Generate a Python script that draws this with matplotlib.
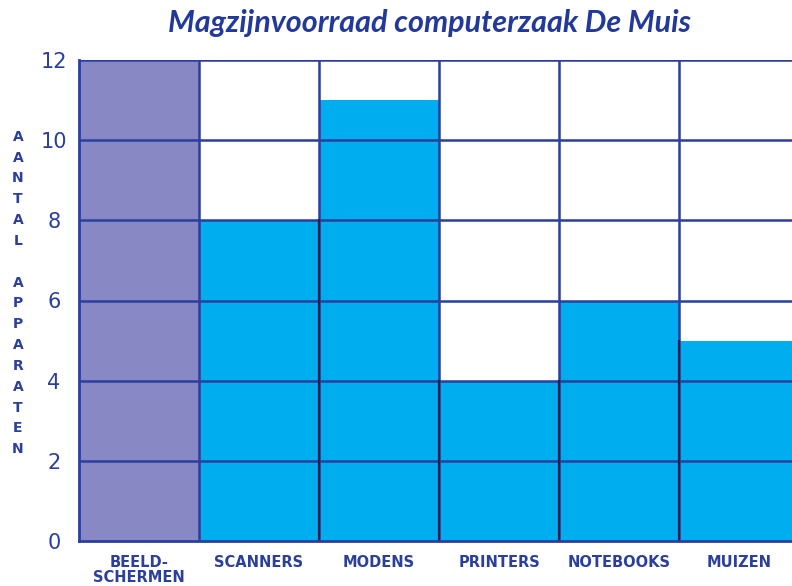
import matplotlib.pyplot as plt

# data
categories = ["BEELD-\nSCHERMEN", "SCANNERS", "MODENS", "PRINTERS", "NOTEBOOKS", "MUIZEN"]
aantal = [12, 8, 11, 4, 6, 5]
bar_colors = ["#8888c4", "#00aeef", "#00aeef", "#00aeef", "#00aeef", "#00aeef"]
y_ticks = [0, 2, 4, 6, 8, 10, 12]

ink = "#2b3f9c"

fig = plt.figure(figsize=(7.92, 5.86), dpi=100)
ax = fig.add_axes([79 / 792, 45 / 586, 713 / 792, 481 / 586])

x = [i + 0.5 for i in range(len(categories))]
ax.bar(x, aantal, width=1.0, color=bar_colors, zorder=1, linewidth=0)

# hand-drawn looking grid on top of the bars
for yv in y_ticks[1:]:
    ax.axhline(yv, color=ink, lw=1.8, zorder=3)
for xv in range(1, len(categories)):
    ax.axvline(xv, color=ink, lw=1.8, zorder=3)
# darker separators where two cyan bars meet
for i in range(1, len(categories)):
    h = min(aantal[i - 1], aantal[i])
    if bar_colors[i - 1] == bar_colors[i]:
        ax.plot([i, i], [0, h], color="#1a2450", lw=1.6, zorder=4)

ax.set_xlim(0, 713 / 120)
ax.set_ylim(0, 12)

for s in ["top", "right"]:
    ax.spines[s].set_visible(False)
for s in ["left", "bottom"]:
    ax.spines[s].set_color(ink)
    ax.spines[s].set_linewidth(2)
    ax.spines[s].set_zorder(5)

ax.set_yticks(y_ticks)
ax.set_yticklabels([str(v) for v in y_ticks], fontsize=15, color=ink, family="DejaVu Sans")
ax.tick_params(axis="y", length=0, pad=18)
for lbl in ax.get_yticklabels():
    lbl.set_horizontalalignment("center")
ax.set_xticks(x)
ax.set_xticklabels(categories, fontsize=10.5, fontweight="bold", color=ink,
                   family="DejaVu Sans", linespacing=1.0, va="top")
ax.tick_params(axis="x", length=0, pad=10)

fig.text(430 / 792, 1 - 23 / 586, "Magzijnvoorraad computerzaak De Muis",
         ha="center", va="center", fontsize=22, fontweight="bold", style="italic",
         color="#23399a", family="Lato")

ylabel = "\n".join("AANTAL APPARATEN")
fig.text(18 / 792, 1 - 293 / 586, ylabel, ha="center", va="center", fontsize=10,
         fontweight="bold", color=ink, family="DejaVu Sans", linespacing=1.62)

fig.savefig("out.png", dpi=100)
